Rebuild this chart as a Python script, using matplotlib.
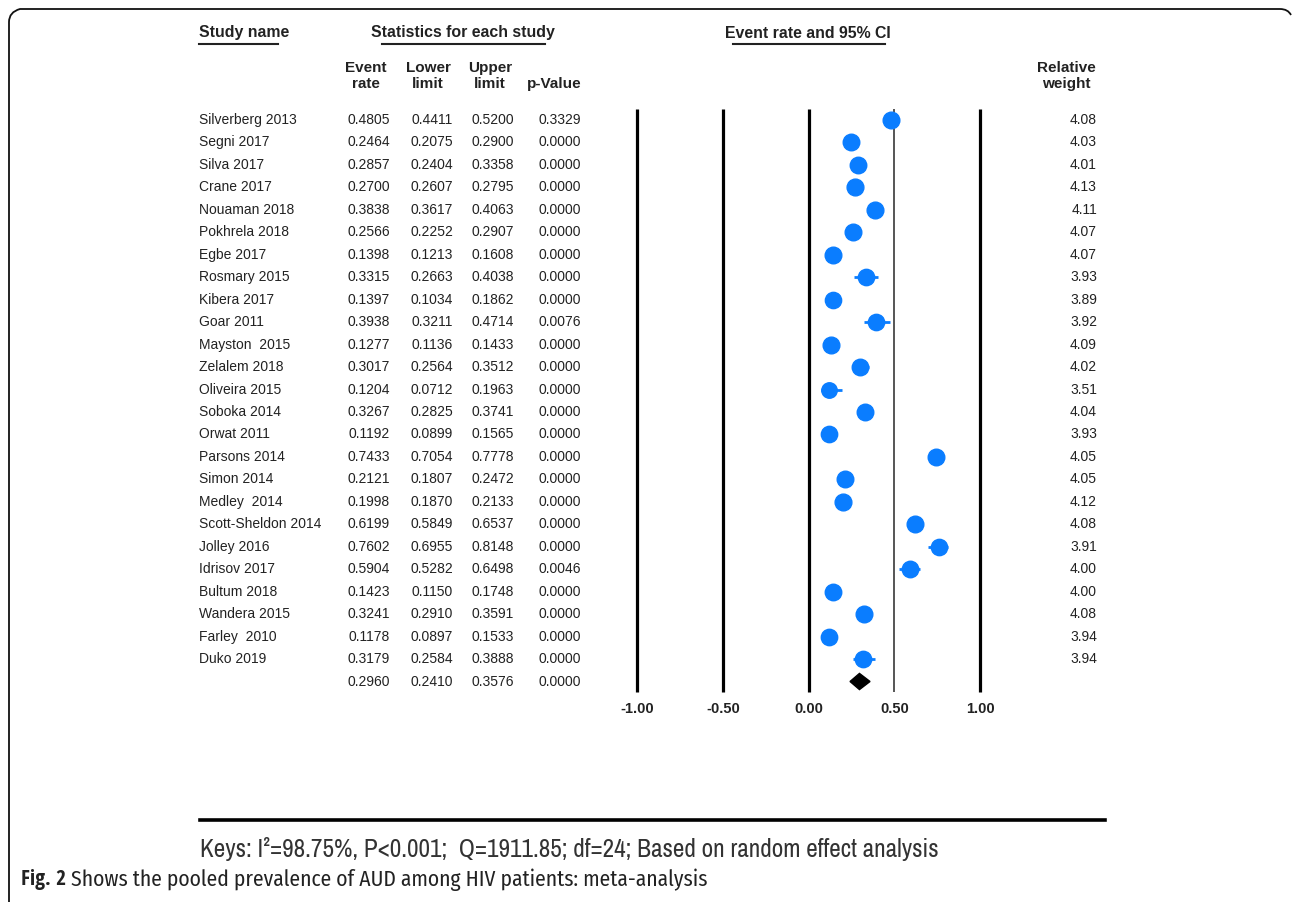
"""Forest plot: pooled prevalence of AUD among HIV patients (meta-analysis)."""

import matplotlib
matplotlib.use("Agg")
import matplotlib.pyplot as plt
import matplotlib.transforms as mtransforms
from matplotlib import font_manager
from matplotlib.font_manager import FontProperties
from matplotlib.patches import Polygon, PathPatch
from matplotlib.path import Path

# ── Data ──────────────────────────────────────────────────────────────────────
studies = ["Silverberg 2013", "Segni 2017", "Silva 2017", "Crane 2017",
           "Nouaman 2018", "Pokhrela 2018", "Egbe 2017", "Rosmary 2015",
           "Kibera 2017", "Goar 2011", "Mayston  2015", "Zelalem 2018",
           "Oliveira 2015", "Soboka 2014", "Orwat 2011", "Parsons 2014",
           "Simon 2014", "Medley  2014", "Scott-Sheldon 2014", "Jolley 2016",
           "Idrisov 2017", "Bultum 2018", "Wandera 2015", "Farley  2010",
           "Duko 2019"]
event_rate = [0.4805, 0.2464, 0.2857, 0.2700, 0.3838, 0.2566, 0.1398, 0.3315,
              0.1397, 0.3938, 0.1277, 0.3017, 0.1204, 0.3267, 0.1192, 0.7433,
              0.2121, 0.1998, 0.6199, 0.7602, 0.5904, 0.1423, 0.3241, 0.1178,
              0.3179]
lower_limit = [0.4411, 0.2075, 0.2404, 0.2607, 0.3617, 0.2252, 0.1213, 0.2663,
               0.1034, 0.3211, 0.1136, 0.2564, 0.0712, 0.2825, 0.0899, 0.7054,
               0.1807, 0.1870, 0.5849, 0.6955, 0.5282, 0.1150, 0.2910, 0.0897,
               0.2584]
upper_limit = [0.5200, 0.2900, 0.3358, 0.2795, 0.4063, 0.2907, 0.1608, 0.4038,
               0.1862, 0.4714, 0.1433, 0.3512, 0.1963, 0.3741, 0.1565, 0.7778,
               0.2472, 0.2133, 0.6537, 0.8148, 0.6498, 0.1748, 0.3591, 0.1533,
               0.3888]
p_value = ["0.3329", "0.0000", "0.0000", "0.0000", "0.0000", "0.0000", "0.0000",
           "0.0000", "0.0000", "0.0076", "0.0000", "0.0000", "0.0000", "0.0000",
           "0.0000", "0.0000", "0.0000", "0.0000", "0.0000", "0.0000", "0.0046",
           "0.0000", "0.0000", "0.0000", "0.0000"]
rel_weight = [4.08, 4.03, 4.01, 4.13, 4.11, 4.07, 4.07, 3.93, 3.89, 3.92, 4.09,
              4.02, 3.51, 4.04, 3.93, 4.05, 4.05, 4.12, 4.08, 3.91, 4.00, 4.00,
              4.08, 3.94, 3.94]
pooled = (0.2960, 0.2410, 0.3576, "0.0000")
x_ticks = [-1.00, -0.50, 0.00, 0.50, 1.00]
keys_text = "Keys: I\u00b2=98.75%, P<0.001;  Q=1911.85; df=24; Based on random effect analysis"
caption_bold = "Fig. 2"
caption_text = " Shows the pooled prevalence of AUD among HIV patients: meta-analysis"

# ── Fonts ─────────────────────────────────────────────────────────────────────
FONTS = font_manager.fontManager.ttflist


def _num(v, table, default):
    return v if isinstance(v, (int, float)) else table.get(v, default)


def pick_font(cands, weight=400):
    """First installed upright (family, stretch set) match -> FontProperties."""
    for name, stretches in cands:
        for f in FONTS:
            if f.name != name or f.style != "normal":
                continue
            st = _num(f.stretch, font_manager.stretch_dict, 500)
            wt = _num(f.weight, font_manager.weight_dict, 400)
            if (stretches is None or st in stretches) and abs(wt - weight) < 50:
                return FontProperties(fname=f.fname)
    return None


NARROW_C = [("Liberation Sans Narrow", None), ("Arial Narrow", None),
            ("Archivo Narrow", None), ("Roboto Condensed", None),
            ("PT Sans Narrow", None), ("IBM Plex Sans Condensed", None),
            ("Liberation Sans", None)]
CAP_C = [("Open Sans", {300, 400}), ("Open Sans Condensed", None),
         ("Noto Sans", {300, 400}), ("Fira Sans Condensed", None),
         ("IBM Plex Sans Condensed", None), ("Open Sans", None), ("Noto Sans", None)]
keys_font = pick_font(NARROW_C) or FontProperties(family="Liberation Sans")
cap_font = pick_font(CAP_C) or FontProperties(family="DejaVu Sans")
cap_font_b = pick_font(CAP_C, 700) or FontProperties(family="DejaVu Sans", weight="bold")

# ── Figure / layout (pixel based) ────────────────────────────────────────────
W, H = 1292, 902
ROW0_Y, ROW_DY = 120.0, 22.46       # pixel y of first row, row spacing
PX_PER_UNIT = 171.5
X0_PX = 808.7                       # pixel x of 0.00

BLUE = "#0a7dff"
INK = "#222222"
SANS = ["Liberation Sans", "DejaVu Sans"]

fig = plt.figure(figsize=(W / 100, H / 100), dpi=100)
fig.patch.set_facecolor("white")

xlim = (-1.2, 1.2)
ylim = (26.5, -0.5)
ax_left = X0_PX + xlim[0] * PX_PER_UNIT
ax_top = ROW0_Y + ylim[1] * ROW_DY
ax_bot = ROW0_Y + ylim[0] * ROW_DY
ax = fig.add_axes([ax_left / W, 1 - ax_bot / H,
                   (xlim[1] - xlim[0]) * PX_PER_UNIT / W, (ax_bot - ax_top) / H])
ax.set_xlim(*xlim)
ax.set_ylim(*ylim)
ax.axis("off")

# pixel transform for the figure, and a blended one (x in px, y in rows)
px = mtransforms.Affine2D().scale(1 / W, -1 / H).translate(0, 1) + fig.transFigure
px_x = mtransforms.Affine2D().scale(1 / W, 1) + fig.transFigure
row_tr = mtransforms.blended_transform_factory(px_x, ax.transData)

# ── Forest plot ──────────────────────────────────────────────────────────────
n = len(studies)
for t in x_ticks:
    if t == 0.5:
        ax.plot([t, t], [-0.5, n + 0.47], color="#555555", lw=1.4, solid_capstyle="butt")
    else:
        ax.plot([t, t], [-0.5, n + 0.47], color="black", lw=2.3, solid_capstyle="butt")
    ax.text(t, n + 1.22, f"{t:.2f}", ha="center", va="center", fontsize=10.5,
            fontweight="bold", family=SANS, color=INK)

for i in range(n):
    ax.plot([lower_limit[i], upper_limit[i]], [i, i], color=BLUE, lw=2.0,
            solid_capstyle="butt", zorder=3)
    ax.plot(event_rate[i], i, "o", color=BLUE, mec=BLUE,
            ms=12.0 * (rel_weight[i] / 4.08) ** 0.5, zorder=4)

est, lo, hi, _ = pooled
h = 0.36
ax.add_patch(Polygon([(lo, n), (est, n - h), (hi, n), (est, n + h)],
                     closed=True, facecolor="black", edgecolor="black", zorder=4))

# ── Table ────────────────────────────────────────────────────────────────────
TXT = dict(fontsize=10, family=SANS, color=INK, va="center")
for i in range(n):
    ax.text(199, i, studies[i], transform=row_tr, ha="left", **TXT)
    ax.text(390, i, f"{event_rate[i]:.4f}", transform=row_tr, ha="right", **TXT)
    ax.text(453, i, f"{lower_limit[i]:.4f}", transform=row_tr, ha="right", **TXT)
    ax.text(514, i, f"{upper_limit[i]:.4f}", transform=row_tr, ha="right", **TXT)
    ax.text(581, i, p_value[i], transform=row_tr, ha="right", **TXT)
    ax.text(1097, i, f"{rel_weight[i]:.2f}", transform=row_tr, ha="right", **TXT)
ax.text(390, n, f"{pooled[0]:.4f}", transform=row_tr, ha="right", **TXT)
ax.text(453, n, f"{pooled[1]:.4f}", transform=row_tr, ha="right", **TXT)
ax.text(514, n, f"{pooled[2]:.4f}", transform=row_tr, ha="right", **TXT)
ax.text(581, n, pooled[3], transform=row_tr, ha="right", **TXT)

# ── Headers ──────────────────────────────────────────────────────────────────
HDR = dict(fontsize=11.4, family=SANS, fontweight="bold", color=INK, va="center")
fig.text(199, 33, "Study name", transform=px, ha="left", **HDR)
fig.text(463, 33, "Statistics for each study", transform=px, ha="center", **HDR)
fig.text(808, 33, "Event rate and 95% CI", transform=px, ha="center", **HDR)
for (x0, x1) in [(199, 278), (382, 545), (733, 885)]:
    fig.add_artist(plt.Line2D([x0, x1], [43.5, 43.5], transform=px, color=INK, lw=1.5))

SUB = dict(fontsize=11, family=SANS, fontweight="bold", color=INK,
           va="center", ha="center", linespacing=1.25)
fig.text(366, 76, "Event\nrate", transform=px, **SUB)
fig.text(428, 76, "Lower\nlimit", transform=px, **SUB)
fig.text(490, 76, "Upper\nlimit", transform=px, **SUB)
fig.text(554, 84, "p-Value", transform=px, **SUB)
fig.text(1066, 76, "Relative\nweight", transform=px, **SUB)

# ── Keys ─────────────────────────────────────────────────────────────────────
fig.add_artist(plt.Line2D([200, 1105], [820, 820], transform=px, color="black", lw=2.6))
keys = fig.text(200, 849, keys_text, transform=px, ha="left", va="center",
                fontproperties=keys_font, fontsize=14, color="#333333")

# ── Caption ──────────────────────────────────────────────────────────────────
cap_b = fig.text(21, 880, caption_bold, transform=px, ha="left", va="center",
                 fontproperties=cap_font_b, fontsize=12, color=INK)
cap_r = fig.text(0, 0, caption_text, transform=mtransforms.IdentityTransform(),
                 ha="left", va="center", fontproperties=cap_font, fontsize=12, color=INK)

# fit text widths to the reference (keys 200-940 px, caption 21-710 px)
r = fig.canvas.get_renderer()
kw = keys.get_window_extent(r).width
keys.set_fontsize(14 * 740 / kw)
cw = cap_b.get_window_extent(r).width + cap_r.get_window_extent(r).width
for t in (cap_b, cap_r):
    t.set_fontsize(12 * 689 / cw)
bb = cap_b.get_window_extent(r)
cap_r.set_position((bb.x1, bb.y0 + bb.height / 2))

# ── Frame ────────────────────────────────────────────────────────────────────
frame = Path([(9, 902), (9, 22), (9, 12), (20, 9), (1280, 9), (1288, 9), (1291, 15)],
             [Path.MOVETO, Path.LINETO, Path.CURVE3, Path.CURVE3, Path.LINETO,
              Path.CURVE3, Path.CURVE3])
fig.add_artist(PathPatch(frame, transform=px, facecolor="none", edgecolor="#111111", lw=1.3))

fig.savefig("out.png", dpi=100)
